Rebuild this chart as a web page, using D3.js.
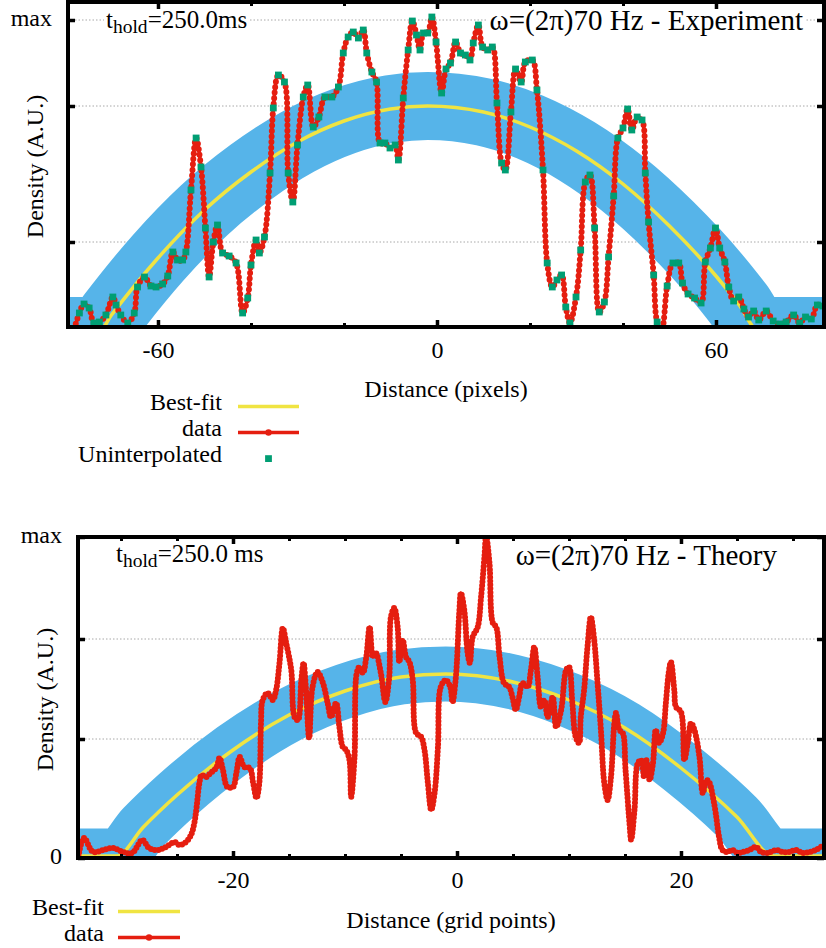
<!DOCTYPE html>
<html>
<head>
<meta charset="utf-8">
<script src="https://cdn.jsdelivr.net/npm/d3@7/dist/d3.min.js"></script>
<style>
body { margin: 0; background: #fff; }
text { font-family: "Liberation Serif", "Times New Roman", serif; fill: #000; }
</style>
</head>
<body>
<div id="chart"></div>
<script>
// ---- top panel (experiment), x in pixels, density in A.U.
var expRawX = [-78.0,-76.9,-75.9,-74.8,-73.8,-72.6,-71.2,-69.7,-69.0,-68.0,-66.5,-65.1,-64.4,-62.9,-61.5,-60.4,-59.0,-57.9,-56.8,-55.8,-54.7,-54.0,-52.9,-51.8,-50.75,-49.8,-49.0,-48.1,-47.2,-46.1,-44.7,-43.2,-41.8,-40.7,-40.0,-38.9,-38.2,-37.1,-35.9,-35.2,-34.1,-32.8,-32.0,-31.0,-30.0,-28.75,-27.8,-26.6,-25.4,-24.1,-22.6,-21.2,-20.15,-19.1,-18.0,-16.9,-15.85,-15.1,-14.0,-13.0,-12.25,-11.2,-10.1,-9.0,-8.3,-7.25,-6.2,-5.3,-4.4,-3.65,-2.9,-2.0,-1.1,-0.2,1.0,1.95,2.9,4.0,5.05,6.1,7.1,7.8,8.9,9.8,10.9,11.9,12.9,13.9,14.7,15.9,16.9,18.1,19.0,20.5,21.5,22.8,23.7,24.8,25.8,26.8,27.7,28.6,29.9,30.9,31.9,32.9,33.9,34.9,36.0,36.9,38.0,38.9,40.0,41.0,41.9,43.05,44.1,44.8,45.5,46.6,47.35,48.3,49.5,50.75,52.0,52.8,54.0,55.4,56.8,57.7,58.8,59.9,60.8,61.9,62.75,63.8,64.9,66.0,67.0,68.1,69.2,70.8,72.3,73.7,75.1,76.7,78.0,79.25,80.5,81.8,83.0];
var expRawY = [-2,14,23,19,4,5,12,30,22,12,4,14,40,50,41,40,43,51,75,67,67,75,137,189,160,99,50,85,102,74,71,64,14,29,62,87,74,90,154,219,252,245,154,125,182,230,242,200,210,230,230,240,274,290,295,289,297,274,255,245,184,184,179,182,167,229,277,306,292,277,294,294,310,285,234,258,264,285,274,272,267,284,302,280,277,280,224,164,157,215,258,245,265,267,237,157,64,40,47,52,20,4,30,77,145,152,99,15,25,70,131,189,199,218,197,210,207,154,105,52,5,-3,41,64,64,44,33,29,24,65,79,99,79,65,40,26,30,18,10,16,7,16,6,3,5,12,4,10,8,22,21];
var expFitX = [-80,-72.6,-70,-60,-50,-40,-30,-20,-10,-2,10,20,30,40,50,60,65,69.2,84];
var expFitY = [-4,-4,12,69,117,155,185,206,218,221,215,200,176,143,101,51,22,-4,-4];
var expXMajor = [-60, 0, 60];
var expXMinor = [-40, -20, 20, 40];
var expYTicks = [85, 221, 307];
var expYLabels = ["", "", "max"];

// ---- bottom panel (theory), x in grid points
var thX = [-33.8,-33.3,-32.5,-31.6,-30.7,-29.8,-29.0,-28.1,-27.5,-26.7,-26.0,-25.2,-24.8,-24.2,-23.75,-23.45,-23.25,-23.0,-22.8,-22.4,-22.0,-21.5,-21.2,-20.9,-20.5,-20.0,-19.7,-19.4,-19.0,-18.5,-18.2,-17.9,-17.65,-17.5,-17.35,-16.9,-16.45,-16.15,-15.85,-15.55,-15.25,-14.8,-14.5,-14.2,-13.9,-13.7,-13.5,-13.2,-12.9,-12.45,-12.0,-11.55,-11.25,-10.8,-10.5,-10.2,-9.9,-9.6,-9.45,-9.15,-8.95,-8.7,-8.4,-8.1,-7.8,-7.5,-7.25,-6.8,-6.4,-6.05,-5.9,-5.6,-5.3,-5.15,-4.85,-4.55,-4.25,-3.95,-3.65,-3.2,-2.9,-2.6,-2.3,-2.0,-1.7,-1.45,-1.0,-0.6,-0.4,-0.1,0.2,0.35,0.65,0.95,1.15,1.4,1.85,2.15,2.45,2.6,2.9,3.2,3.5,3.8,4.2,4.65,4.95,5.25,5.55,5.85,6.3,6.6,6.9,7.2,7.5,7.8,8.1,8.55,8.85,9.3,9.75,10.0,10.3,10.6,10.9,11.05,11.35,11.65,11.95,12.25,12.55,12.85,13.15,13.45,13.75,14.05,14.2,14.5,14.8,15.05,15.4,15.55,15.85,16.15,16.45,16.7,16.9,17.2,17.5,17.75,18.05,18.4,18.65,18.9,19.1,19.4,19.55,20.0,20.3,20.6,20.9,21.2,21.65,21.95,22.3,22.55,22.85,23.1,23.4,23.7,24.15,24.6,25.05,25.5,26.1,26.7,27.15,27.75,28.5,29.1,29.65,30.25,30.85,31.45,32.05,32.75];
var thY = [2,20,6,8,10,6,5,18,10,8,11,16,13,16,23,35,51,75,83,81,85,90,100,88,71,71,85,101,91,90,75,60,75,135,158,165,158,168,195,230,215,188,141,138,178,195,171,120,171,186,176,155,141,155,131,111,108,98,61,101,185,191,185,201,231,201,205,185,156,181,241,250,231,196,218,201,196,178,125,121,108,75,48,65,111,171,178,171,156,181,245,265,248,205,195,221,231,261,301,322,295,235,231,201,175,171,161,148,161,175,171,188,211,181,151,158,141,161,131,148,188,191,155,121,115,141,168,211,241,218,175,128,75,58,81,135,145,128,125,88,35,18,48,95,98,81,98,78,95,128,115,125,155,185,196,168,151,146,98,115,135,128,101,65,78,75,61,45,21,8,6,8,5,6,8,11,6,5,8,6,6,8,5,6,8,13];
var thFitX = [-34,-30.4,-28,-25,-20,-15,-10,-5,-1,5,10,15,20,25,28.3,33];
var thFitY = [2,2,31,63,108,143,167,181,184,176,158,130,90,41,2,2];
var thXMajor = [-20, 0, 20];
var thXMinor = [-30, -25, -15, -10, -5, 5, 10, 15, 25, 30];
var thYTicks = [0, 119, 219, 321];
var thYLabels = ["0", "", "", "max"];

var blue = "#56b4e9", yellow = "#f0e442", red = "#e51e10", green = "#009e73";

var svg = d3.select("#chart")
    .append("svg")
    .attr("width", 826)
    .attr("height", 948);

var defs = svg.append("defs");

function zip(a, b) {
    return a.map(function(v, i) { return [v, b[i]]; });
}

function boxedText(g, build) {
    var t = build(g.append("g"));
    var bb = t.node().getBBox();
    t.insert("rect", ":first-child")
        .attr("x", bb.x - 2).attr("y", bb.y)
        .attr("width", bb.width + 4).attr("height", bb.height)
        .attr("fill", "#fff");
}

function panel(p) {
    var x = d3.scaleLinear().domain(p.xDomain).range([p.left, p.right]);
    var y = d3.scaleLinear().domain(p.yDomain).range([p.bottom, p.top]);
    var g = svg.append("g");

    defs.append("clipPath").attr("id", "clip-" + p.id)
        .append("rect")
        .attr("x", p.left).attr("y", p.top)
        .attr("width", p.right - p.left).attr("height", p.bottom - p.top);

    // dotted horizontal grid
    g.selectAll(".grid")
        .data(p.yTicks)
        .enter()
        .append("line")
        .attr("x1", p.left).attr("x2", p.right)
        .attr("y1", function(d) { return y(d); })
        .attr("y2", function(d) { return y(d); })
        .attr("stroke", "#a8a8a8")
        .attr("stroke-width", 1)
        .attr("stroke-dasharray", "1.5,2");

    // labels inside the plot (opaque like gnuplot boxes)
    boxedText(g, function(lg) {
        var t = lg.append("text")
            .attr("x", p.holdX).attr("y", p.holdY)
            .style("font-size", "25px");
        t.append("tspan").text("t");
        t.append("tspan").attr("dy", 5).style("font-size", "19.5px").text("hold");
        t.append("tspan").attr("dy", -5).text(p.holdText);
        return lg;
    });
    boxedText(g, function(lg) {
        lg.append("text")
            .attr("x", p.titleX).attr("y", p.titleY)
            .style("font-size", "29px")
            .style("text-anchor", "end")
            .text(p.title);
        return lg;
    });

    var plot = g.append("g").attr("clip-path", "url(#clip-" + p.id + ")");

    var fitLine = d3.line()
        .x(function(d) { return x(d[0]); })
        .y(function(d) { return y(d[1]); })
        .curve(d3.curveMonotoneX);
    var fit = zip(p.fitX, p.fitY);

    plot.append("path")
        .attr("d", fitLine(fit))
        .attr("fill", "none")
        .attr("stroke", blue)
        .attr("stroke-width", p.band)
        .attr("stroke-linejoin", "miter");
    plot.append("path")
        .attr("d", fitLine(fit))
        .attr("fill", "none")
        .attr("stroke", yellow)
        .attr("stroke-width", 3.5);

    var dataLine = d3.line()
        .x(function(d) { return x(d[0]); })
        .y(function(d) { return y(d[1]); })
        .curve(d3.curveCatmullRom.alpha(0.5));
    var pts = zip(p.dataX, p.dataY);

    plot.append("path")
        .attr("d", dataLine(pts))
        .attr("fill", "none")
        .attr("stroke", red)
        .attr("stroke-width", 3.5);
    plot.append("path")
        .attr("d", dataLine(pts))
        .attr("fill", "none")
        .attr("stroke", red)
        .attr("stroke-width", 6)
        .attr("stroke-linecap", "round")
        .attr("stroke-dasharray", "0," + p.dotGap);

    if (p.squares) {
        plot.selectAll(".sq")
            .data(pts)
            .enter()
            .append("rect")
            .attr("x", function(d) { return x(d[0]) - 3.4; })
            .attr("y", function(d) { return y(d[1]) - 3.4; })
            .attr("width", 6.8)
            .attr("height", 6.8)
            .attr("fill", green);
    }

    // ticks (inward, mirrored)
    function tickAxis(axis, tr) {
        var a = g.append("g").attr("transform", tr).call(axis);
        a.select(".domain").remove();
        a.selectAll(".tick line").attr("stroke", "#000");
        return a;
    }
    var xb = tickAxis(d3.axisBottom(x).tickValues(p.xMajor).tickSize(-7)
        .tickFormat(function(d) { return String(d); }), "translate(0," + p.bottom + ")");
    xb.selectAll(".tick line").attr("stroke-width", 3.5);
    xb.selectAll("text").attr("y", p.xLabelOffset).attr("dy", 0).style("font-size", "24px");
    tickAxis(d3.axisBottom(x).tickValues(p.xMinor).tickSize(-4).tickFormat(""), "translate(0," + p.bottom + ")")
        .selectAll(".tick line").attr("stroke-width", 3);
    tickAxis(d3.axisTop(x).tickValues(p.xMajor).tickSize(-7).tickFormat(""), "translate(0," + p.top + ")")
        .selectAll(".tick line").attr("stroke-width", 3.5);
    tickAxis(d3.axisTop(x).tickValues(p.xMinor).tickSize(-4).tickFormat(""), "translate(0," + p.top + ")")
        .selectAll(".tick line").attr("stroke-width", 3);

    var yl = tickAxis(d3.axisLeft(y).tickValues(p.yTicks).tickSize(-7)
        .tickFormat(function(d, i) { return p.yLabels[i]; }), "translate(" + p.left + ",0)");
    yl.selectAll(".tick line").attr("stroke-width", 3.5);
    yl.selectAll("text").attr("x", -16).attr("dy", 5).style("font-size", "24px");
    tickAxis(d3.axisRight(y).tickValues(p.yTicks).tickSize(-7).tickFormat(""), "translate(" + p.right + ",0)")
        .selectAll(".tick line").attr("stroke-width", 3.5);

    // frame
    g.append("rect")
        .attr("x", p.left).attr("y", p.top)
        .attr("width", p.right - p.left).attr("height", p.bottom - p.top)
        .attr("fill", "none")
        .attr("stroke", "#000")
        .attr("stroke-width", 4);

    // axis titles
    g.append("text")
        .attr("x", (p.left + p.right) / 2)
        .attr("y", p.xTitleY)
        .style("text-anchor", "middle")
        .style("font-size", "24px")
        .text(p.xTitle);
    g.append("text")
        .attr("transform", "translate(" + p.yTitleX + "," + ((p.top + p.bottom) / 2 + 2) + ") rotate(-90)")
        .style("text-anchor", "middle")
        .style("font-size", "24px")
        .text("Density (A.U.)");

    // legend
    var lg = g.append("g");
    p.legend.forEach(function(item, i) {
        var by = p.legendY + i * 26;
        lg.append("text")
            .attr("x", p.legendTextX)
            .attr("y", by)
            .style("text-anchor", "end")
            .style("font-size", "24px")
            .text(item);
        var cx = (p.legendLine[0] + p.legendLine[1]) / 2;
        if (item == "Best-fit" || item == "data") {
            lg.append("line")
                .attr("x1", p.legendLine[0]).attr("x2", p.legendLine[1])
                .attr("y1", by - 3.5).attr("y2", by - 3.5)
                .attr("stroke", item == "data" ? red : yellow)
                .attr("stroke-width", 3.5);
            if (item == "data") {
                lg.append("circle").attr("cx", cx).attr("cy", by - 3.5).attr("r", 3.2).attr("fill", red);
            }
        } else {
            lg.append("rect").attr("x", cx - 3.4).attr("y", by - 6.8)
                .attr("width", 6.8).attr("height", 6.8).attr("fill", green);
        }
    });
}

panel({
    id: "exp",
    left: 68, right: 824, top: 2, bottom: 327,
    xDomain: [-79.35, 83.23], yDomain: [0, 325],
    dataX: expRawX, dataY: expRawY, squares: true, dotGap: 5.5,
    fitX: expFitX, fitY: expFitY, band: 68,
    xMajor: expXMajor, xMinor: expXMinor,
    yTicks: expYTicks, yLabels: expYLabels,
    xLabelOffset: 31,
    holdX: 106, holdY: 28, holdText: "=250.0ms",
    title: "\u03c9=(2\u03c0)70 Hz - Experiment", titleX: 803, titleY: 30,
    xTitle: "Distance (pixels)", xTitleY: 397, yTitleX: 43,
    legend: ["Best-fit", "data", "Uninterpolated"],
    legendY: 410, legendTextX: 222, legendLine: [238, 299]
});

panel({
    id: "th",
    left: 78, right: 824, top: 537, bottom: 858,
    xDomain: [-33.84, 32.77], yDomain: [0, 321],
    dataX: thX, dataY: thY, squares: false, dotGap: 3.8,
    fitX: thFitX, fitY: thFitY, band: 55,
    xMajor: thXMajor, xMinor: thXMinor,
    yTicks: thYTicks, yLabels: thYLabels,
    xLabelOffset: 30,
    holdX: 116, holdY: 562, holdText: "=250.0 ms",
    title: "\u03c9=(2\u03c0)70 Hz - Theory", titleX: 777, titleY: 565,
    xTitle: "Distance (grid points)", xTitleY: 928, yTitleX: 53,
    legend: ["Best-fit", "data"],
    legendY: 915, legendTextX: 104, legendLine: [118, 180]
});
</script>
</body>
</html>
